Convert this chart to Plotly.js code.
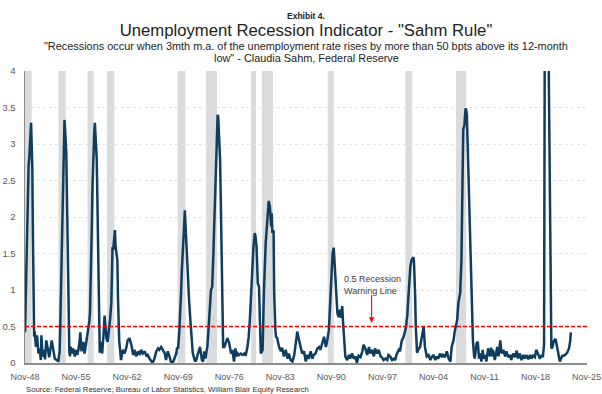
<!DOCTYPE html>
<html>
<head>
<meta charset="utf-8">
<script src="https://cdn.plot.ly/plotly-3.0.1.min.js"></script>
<style>
  html, body { margin: 0; padding: 0; background: #ffffff; }
  #chart { width: 602px; height: 394px; }
</style>
</head>
<body>
<div id="chart"></div>
<script>
// Sahm rule indicator: 3-month average unemployment rate minus its 12-month low (pct pts)
const months = [
  "1948-11","1948-12","1949-01","1949-02","1949-03","1949-04","1949-05","1949-06","1949-07","1949-08","1949-09","1949-10","1949-11","1949-12",
  "1950-01","1950-02","1950-03","1950-05","1950-07","1950-09","1950-11","1951-01","1951-02","1951-04","1951-06","1951-08","1951-10","1952-01","1952-03","1952-07","1952-09","1952-12",
  "1953-03","1953-06","1953-07","1953-08","1953-09","1953-10","1953-11","1953-12","1954-01","1954-02","1954-03","1954-04","1954-05","1954-06","1954-07","1954-08","1954-09","1954-10","1954-11","1954-12",
  "1955-01","1955-02","1955-05","1955-06","1955-09","1955-11","1956-01","1956-03","1956-05","1956-06","1956-08","1956-11","1957-01","1957-04","1957-07","1957-08","1957-09","1957-10","1957-11","1957-12",
  "1958-01","1958-02","1958-03","1958-04","1958-05","1958-06","1958-07","1958-08","1958-09","1958-10","1958-11","1958-12","1959-01","1959-02","1959-03","1959-06","1959-08","1959-10",
  "1960-01","1960-03","1960-05","1960-07","1960-09","1960-10","1960-11","1960-12","1961-01","1961-02","1961-03","1961-04","1961-05","1961-06","1961-07","1961-08","1961-09","1961-10","1961-11",
  "1962-01","1962-04","1962-07","1962-10","1962-12","1963-03","1963-06","1963-09","1963-11","1964-02","1964-05","1964-08","1964-10","1965-01","1965-04","1965-07","1965-09","1965-12",
  "1966-03","1966-05","1966-08","1966-11","1967-02","1967-04","1967-07","1967-10","1968-01","1968-03","1968-06","1968-09","1968-11","1969-02","1969-05","1969-08","1969-09","1969-11",
  "1970-01","1970-03","1970-04","1970-05","1970-06","1970-08","1970-10","1970-11","1970-12","1971-01","1971-03","1971-05","1971-07","1971-08","1971-09","1971-11",
  "1972-02","1972-04","1972-07","1972-10","1972-11","1973-02","1973-04","1973-06","1973-08","1973-10","1973-11",
  "1974-01","1974-03","1974-05","1974-07","1974-08","1974-09","1974-10","1974-11","1974-12","1975-01","1975-02","1975-03","1975-04","1975-05","1975-06","1975-07","1975-08","1975-09","1975-10","1975-11","1975-12",
  "1976-01","1976-03","1976-06","1976-08","1976-11","1977-02","1977-04","1977-07","1977-09","1977-11","1978-01","1978-03","1978-06","1978-09","1978-12","1979-02","1979-05","1979-07","1979-09","1979-11",
  "1980-01","1980-03","1980-05","1980-06","1980-08","1980-10","1980-12","1981-02","1981-03","1981-06","1981-08","1981-11","1982-02","1982-04","1982-06","1982-08","1982-09","1982-10","1982-12",
  "1983-01","1983-03","1983-04","1983-06","1983-09","1983-12","1984-02","1984-05","1984-08","1984-11","1985-01","1985-04","1985-07","1985-10","1985-12",
  "1986-03","1986-06","1986-09","1986-11","1987-02","1987-05","1987-07","1987-10","1988-01","1988-04","1988-06","1988-09","1988-12","1989-03","1989-05","1989-08","1989-11",
  "1990-02","1990-04","1990-07","1990-09","1990-11","1991-01","1991-03","1991-05","1991-06","1991-07","1991-09","1991-11",
  "1992-01","1992-03","1992-05","1992-06","1992-07","1992-09","1992-10","1993-01","1993-04","1993-06","1993-09","1993-12","1994-03","1994-05","1994-08","1994-11",
  "1995-02","1995-04","1995-07","1995-10","1996-01","1996-03","1996-06","1996-09","1996-11","1997-02","1997-05","1997-08","1997-10","1998-01","1998-04","1998-07","1998-09","1998-12","1999-03","1999-06","1999-08","1999-11",
  "2000-02","2000-04","2000-07","2000-10","2001-01","2001-02","2001-03","2001-04","2001-05","2001-06","2001-07","2001-08","2001-09","2001-11","2001-12",
  "2002-02","2002-03","2002-04","2002-05","2002-06","2002-08","2002-10","2003-01","2003-04","2003-07","2003-09","2003-12",
  "2004-03","2004-06","2004-08","2004-11","2005-02","2005-04","2005-07","2005-10","2006-01","2006-03","2006-06","2006-09","2006-12","2007-03","2007-05","2007-08","2007-10","2007-12",
  "2008-02","2008-04","2008-07","2008-09","2008-10","2008-11","2008-12","2009-02","2009-03","2009-04","2009-05","2009-06","2009-07","2009-08","2009-09","2009-10","2009-11","2009-12",
  "2010-01","2010-02","2010-03","2010-04","2010-06","2010-07","2010-10","2010-12","2011-02","2011-04","2011-06","2011-08","2011-10","2011-12",
  "2012-02","2012-05","2012-08","2012-10","2012-12","2013-01","2013-04","2013-06","2013-08","2013-10","2013-11","2014-01","2014-03","2014-06","2014-09","2014-11",
  "2015-02","2015-05","2015-07","2015-10","2016-01","2016-04","2016-06","2016-09","2016-12","2017-03","2017-05","2017-08","2017-11",
  "2018-02","2018-04","2018-07","2018-10","2018-12","2019-03","2019-06","2019-09","2019-11","2020-01","2020-02","2020-03","2020-04","2020-05","2020-06","2020-07","2020-08","2020-09","2020-10","2020-11","2020-12",
  "2021-01","2021-03","2021-05","2021-08","2021-10","2021-12","2022-03","2022-05","2022-07","2022-10","2023-01","2023-03","2023-06","2023-08","2023-09"
];

const sahmIndicator = [
  0.42,0.8,1.3,1.8,2.2,2.55,2.7,2.8,2.95,3.15,3.29,3.0,2.7,1.8,
  0.9,0.36,0.43,0.22,0.38,0.13,0.2,0.04,0.38,0.09,0.18,0.05,0.31,0.13,0.08,0.31,0.18,0.06,
  0.04,0.02,0.1,0.15,0.5,0.9,1.3,1.75,2.2,2.6,3.0,3.33,3.2,3.0,2.88,2.3,1.6,0.9,0.4,0.15,
  0.09,0.22,0.13,0.2,0.09,0.18,0.11,0.18,0.31,0.42,0.16,0.29,0.13,0.29,0.45,0.5,0.58,0.7,1.0,1.35,
  1.9,2.4,2.78,3.0,3.15,3.29,3.1,2.9,2.8,2.3,1.6,1.0,0.5,0.14,0.29,0.13,0.36,0.65,
  0.34,0.29,0.45,0.59,0.82,1.2,1.59,1.55,1.64,1.7,1.82,1.6,1.5,1.45,1.41,0.9,0.5,0.3,0.22,
  0.04,0.18,0.13,0.22,0.31,0.34,0.25,0.11,0.18,0.09,0.16,0.11,0.18,0.13,0.16,0.09,0.11,0.06,
  0.02,0,0.06,0.16,0.2,0.18,0.22,0.18,0.13,0.04,0.16,0.08,0.02,0,0.06,0.13,0.2,0.21,
  0.45,0.73,1.0,1.25,1.5,1.75,2.09,1.9,1.6,1.41,1.1,0.86,0.6,0.45,0.3,0.14,
  0.04,0.02,0.11,0.18,0.22,0.04,0.02,0.16,0.06,0.18,0.22,
  0.47,0.7,1.0,1.04,1.2,1.5,1.8,2.1,2.4,2.7,3.0,3.25,3.4,3.37,3.2,3.0,2.78,2.3,1.87,1.0,0.5,
  0.22,0.22,0.31,0.34,0.27,0.13,0.18,0.02,0.2,0.09,0.13,0.11,0.13,0.11,0.13,0.1,0.22,0.35,0.6,0.95,
  1.35,1.6,1.78,1.75,1.59,1.09,1.05,0.27,0.13,0.18,0.95,1.64,2.1,2.22,2.14,1.87,2.05,1.78,1.82,
  0.95,0.45,0.36,0.34,0.22,0.16,0.21,0.09,0.18,0.06,0.13,0.04,0.02,0.11,0.22,
  0.43,0.31,0.18,0.13,0.16,0.02,0.11,0.06,0.16,0.06,0.11,0.13,0.2,0.22,0.18,0.29,0.36,
  0.22,0.29,0.45,0.8,1.2,1.5,1.58,1.25,1.05,0.91,0.68,0.63,
  0.73,0.62,0.78,0.6,0.5,0.31,0.09,0.04,0.11,0.06,0.13,0.06,0.09,0,0.1,0.08,
  0.16,0.25,0.2,0.11,0.22,0.13,0.18,0.09,0.2,0.13,0.18,0.09,0.08,0.04,0.06,0.04,0.11,0.09,0.04,0.06,0.04,0.13,
  0.18,0.16,0.31,0.36,0.45,0.5,0.59,0.65,0.8,0.95,1.1,1.25,1.32,1.41,1.43,
  1.45,1.4,1.23,0.9,0.5,0.14,0.18,0.22,0.36,0.5,0.22,0.09,
  0.11,0.04,0.08,0.11,0.04,0.09,0.06,0.13,0.08,0.11,0.08,0.16,0.06,0.02,0.22,0.31,0.43,0.54,
  0.59,0.82,0.96,1.4,1.8,2.6,3.2,3.26,3.4,3.49,3.46,3.4,3.1,2.8,2.5,2.2,1.87,1.4,
  1.0,0.7,0.5,0.3,0.1,0.06,0.27,0.29,0.06,0.13,0.02,0.18,0.06,0.11,
  0.02,0.2,0.09,0.21,0.09,0.18,0.04,0.16,0.22,0.09,0.2,0.31,0.13,0.18,0.09,0.16,
  0.08,0.11,0.04,0.13,0.08,0.17,0.06,0.13,0.04,0.11,0.06,0.11,0.05,
  0.11,0.06,0.1,0.08,0.18,0.13,0.06,0.11,0.08,0.25,5.2,7.5,8.2,7.4,6.4,5.5,4.5,3.6,2.7,1.8,0.9,
  0.2,0.22,0.3,0.33,0.25,0.13,0.02,0.06,0.1,0.1,0.12,0.14,0.2,0.3,0.42
];

// Recession periods (shaded)
const recessionStart = ["1948-11","1953-06","1957-06","1960-02","1969-10","1973-09","1979-11","1981-05","1990-05","2001-01","2007-12"];
const recessionEnd   = ["1949-10","1954-06","1958-04","1961-02","1970-11","1975-03","1980-07","1982-11","1991-03","2001-12","2009-05"];

// Axis ticks
const xTickDates  = ["1948-11-01","1955-11-01","1962-11-01","1969-11-01","1976-11-01","1983-11-01","1990-11-01","1997-11-01","2004-11-01","2011-11-01","2018-11-01","2025-11-01"];
const xTickLabels = ["Nov-48","Nov-55","Nov-62","Nov-69","Nov-76","Nov-83","Nov-90","Nov-97","Nov-04","Nov-11","Nov-18","Nov-25"];
const yTickValues = [0,0.5,1,1.5,2,2.5,3,3.5,4];
const yTickLabels = ["0","0.5","1","1.5","2","2.5","3","3.5","4"];

const warningLevel = 0.5;

const FONT = "Liberation Sans, Arial, Helvetica, sans-serif";

const recessionShapes = recessionStart.map((s, i) => ({
  type: "rect", layer: "below",
  xref: "x", yref: "paper",
  x0: s, x1: recessionEnd[i], y0: 0, y1: 1,
  fillcolor: "#dadbdc", line: {width: 0}
}));

const warningShape = {
  type: "line", layer: "above",
  xref: "paper", yref: "y",
  x0: 0, x1: 1, y0: warningLevel, y1: warningLevel,
  line: {color: "#ff0000", width: 1.3, dash: "4px,2px"}
};

const trace = {
  type: "scatter", mode: "lines",
  x: months, y: sahmIndicator,
  line: {color: "#0e3d5f", width: 2.5},
  hoverinfo: "skip"
};

const layout = {
  width: 602, height: 394,
  margin: {l: 25, r: 15, t: 71, b: 31, pad: 0},
  paper_bgcolor: "#ffffff", plot_bgcolor: "#ffffff",
  showlegend: false,
  font: {family: FONT, color: "#595959", size: 9.5},
  title: {
    text: "Unemployment Recession Indicator - \"Sahm Rule\"",
    font: {family: FONT, size: 16.7, color: "#222222"},
    xref: "paper", x: 0.5, xanchor: "center",
    yref: "container", y: 1 - 30 / 394, yanchor: "middle"
  },
  xaxis: {
    type: "date",
    range: ["1948-11-01", "2025-11-20"],
    tickmode: "array", tickvals: xTickDates, ticktext: xTickLabels,
    ticklabeloverflow: "allow",
    showgrid: false, zeroline: false,
    showline: true, linecolor: "#8c8c8c", linewidth: 2,
    ticks: "outside", ticklen: 4, tickcolor: "rgba(0,0,0,0)",
    tickfont: {family: FONT, size: 9, color: "#595959"}
  },
  yaxis: {
    range: [0, 4],
    tickmode: "array", tickvals: yTickValues, ticktext: yTickLabels,
    showgrid: true, gridcolor: "#e4e4e4", gridwidth: 1, griddash: "3px,3px",
    zeroline: false,
    showline: true, linecolor: "#8c8c8c", linewidth: 1.5,
    ticks: "outside", ticklen: 6, tickcolor: "rgba(0,0,0,0)",
    tickfont: {family: FONT, size: 9.5, color: "#595959"}
  },
  shapes: recessionShapes.concat([warningShape]),
  annotations: [
    {
      text: "<b>Exhibit 4.</b>",
      xref: "paper", yref: "paper", x: 0.5, y: (363 - 15.5) / 292,
      xanchor: "center", yanchor: "middle", showarrow: false,
      font: {family: FONT, size: 8.5, color: "#222222"}
    },
    {
      text: "\"Recessions occur when 3mth m.a. of the unemployment rate rises by more than 50 bpts above its 12-month",
      xref: "paper", yref: "paper", x: 0.5, y: (363 - 45.5) / 292,
      xanchor: "center", yanchor: "middle", showarrow: false,
      font: {family: FONT, size: 10.9, color: "#222222"}
    },
    {
      text: "low\" - Claudia Sahm, Federal Reserve",
      xref: "paper", yref: "paper", x: 0.5, y: (363 - 57.7) / 292,
      xanchor: "center", yanchor: "middle", showarrow: false,
      font: {family: FONT, size: 10.9, color: "#222222"}
    },
    {
      text: "0.5 Recession<br>Warning Line",
      xref: "paper", yref: "y", x: (341.5 - 25) / 562, y: 1.07,
      xanchor: "left", yanchor: "middle", align: "left", showarrow: false,
      font: {family: FONT, size: 9, color: "#404040"}
    },
    {
      text: "",
      xref: "x", yref: "y", x: "1996-05-10", y: 0.55,
      showarrow: true, ax: 0, ay: -29,
      arrowhead: 2, arrowsize: 1, arrowwidth: 1.1, arrowcolor: "#ff0000", standoff: 0
    },
    {
      text: "Source: Federal Reserve; Bureau of Labor Statistics, William Blair Equity Research",
      xref: "paper", yref: "paper", x: -1 / 562, y: (363 - 389.5) / 292,
      xanchor: "left", yanchor: "middle", showarrow: false,
      font: {family: FONT, size: 7.7, color: "#333333"}
    }
  ]
};

Plotly.newPlot("chart", [trace], layout, {staticPlot: true, displayModeBar: false});
</script>
</body>
</html>
